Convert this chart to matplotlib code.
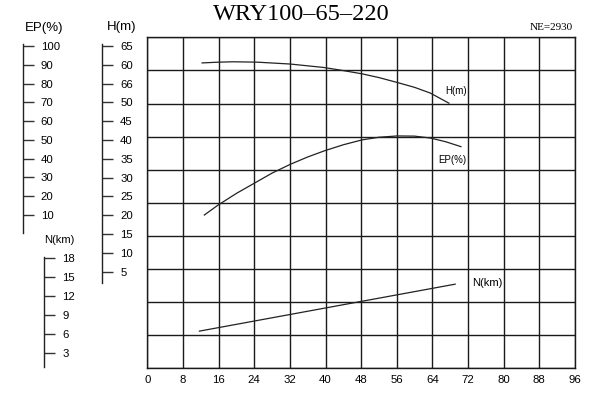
import numpy as np
import matplotlib
matplotlib.use("Agg")
import matplotlib.pyplot as plt

plt.rcParams["font.family"] = ["Liberation Sans", "DejaVu Sans"]

# pump curve data (flow in m3/h)
flow_ticks = [0, 8, 16, 24, 32, 40, 48, 56, 64, 72, 80, 88, 96]

h_flow = [12.3, 16.0, 19.3, 24.7, 32.1, 39.5, 43.3, 48.2, 52.0, 56.1, 60.0, 63.5, 67.7]
h_vals = [60.5, 60.7, 60.8, 60.7, 60.2, 59.3, 58.6, 57.6, 56.6, 55.3, 54.0, 52.5, 49.8]

ep_flow = [12.8, 15.9, 20.0, 24.0, 28.0, 32.1, 36.0, 39.9, 44.0, 48.2, 52.0, 56.1, 60.0, 63.5, 67.0, 70.4]
ep_vals = [10.0, 15.3, 21.5, 26.9, 32.3, 37.0, 40.9, 44.3, 47.4, 50.0, 51.4, 52.1, 52.0, 51.0, 49.0, 46.4]

n_flow = [11.7, 69.1]
n_vals = [6.4, 13.8]

ep_ticks = [100, 90, 80, 70, 60, 50, 40, 30, 20, 10]
h_ticks = [65, 60, 55, 50, 45, 40, 35, 30, 25, 20, 15, 10, 5]
h_ticklabels = ["65", "60", "66", "50", "45", "40", "35", "30", "25", "20", "15", "10", "5"]
n_ticks = [18, 15, 12, 9, 6, 3]

# vertical ranges of each scale over the grid height
h_lim = (-20.68, 67.31)
ep_lim = (-71.64, 104.63)
n_lim = (0.54, 52.71)

W, H = 599, 393
fig = plt.figure(figsize=(W / 100, H / 100), dpi=100)


def fx(px):
    return px / W


def fy(py):
    return 1 - py / H


top, bot = 37.3, 368.3
ax = fig.add_axes([fx(147.3), fy(bot), (575 - 147.3) / W, (bot - top) / H])
ax.set_xlim(0, 96)
ax.set_ylim(0, 10)
ax.set_xticks(flow_ticks)
ax.set_yticks(range(11))
ax.grid(True, color="#1a1a1a", lw=1.0)
for s in ax.spines.values():
    s.set_color("#1a1a1a")
    s.set_linewidth(1.0)

axH = ax.twinx()
axH.set_ylim(*h_lim)
axH.axis("off")
axH.plot(h_flow, h_vals, color="#222222", lw=0.9)
axH.text(66.8, 53.0, "H(m)", fontsize=7, ha="left", va="center")

axE = ax.twinx()
axE.set_ylim(*ep_lim)
axE.axis("off")
axE.plot(ep_flow, ep_vals, color="#222222", lw=0.9)
axE.text(65.3, 39.3, "EP(%)", fontsize=7, ha="left", va="center")

axN = ax.twinx()
axN.set_ylim(*n_lim)
axN.axis("off")
axN.plot(n_flow, n_vals, color="#222222", lw=0.9)
axN.text(72.9, 14.0, "N(km)", fontsize=8, ha="left", va="center")

# twinx turns the left ticks back on, so set these last
ax.tick_params(axis="x", length=0, pad=5, labelsize=8.2)
ax.tick_params(axis="y", left=False, right=False, labelleft=False, labelright=False)


def side_scale(xpx, lim, ticks, labels, bounds):
    s = fig.add_axes([fx(xpx), fy(bot), 0.0001, (bot - top) / H])
    s.set_ylim(*lim)
    s.set_xticks([])
    for k in ["left", "top", "bottom"]:
        s.spines[k].set_visible(False)
    s.spines["right"].set_bounds(*bounds)
    s.spines["right"].set_color("#222222")
    s.spines["right"].set_linewidth(1.0)
    s.yaxis.tick_right()
    s.set_yticks(ticks)
    s.set_yticklabels(labels)
    s.tick_params(axis="y", direction="out", length=8, width=1.0,
                  color="#333333", pad=5, labelsize=8.2)
    s.patch.set_visible(False)
    return s


side_scale(22.7, ep_lim, ep_ticks, [str(t) for t in ep_ticks], (0.4, 101.1))
side_scale(102, h_lim, h_ticks, h_ticklabels, (2.0, 65.5))
side_scale(44, n_lim, n_ticks, [str(t) for t in n_ticks], (0.75, 18.1))

fig.text(fx(44), fy(28), "EP(%)", fontsize=9.5, ha="center", va="center")
fig.text(fx(122), fy(27), "H(m)", fontsize=9.5, ha="center", va="center")
fig.text(fx(59.5), fy(240), "N(km)", fontsize=8, ha="center", va="center")

fig.text(fx(301.5), fy(14), "WRY100–65–220", fontsize=17.5,
         family="Liberation Serif", ha="center", va="center")
fig.text(fx(573), fy(27), "NE=2930", fontsize=8,
         family="Liberation Serif", ha="right", va="center")

fig.savefig("out.png", dpi=100)
